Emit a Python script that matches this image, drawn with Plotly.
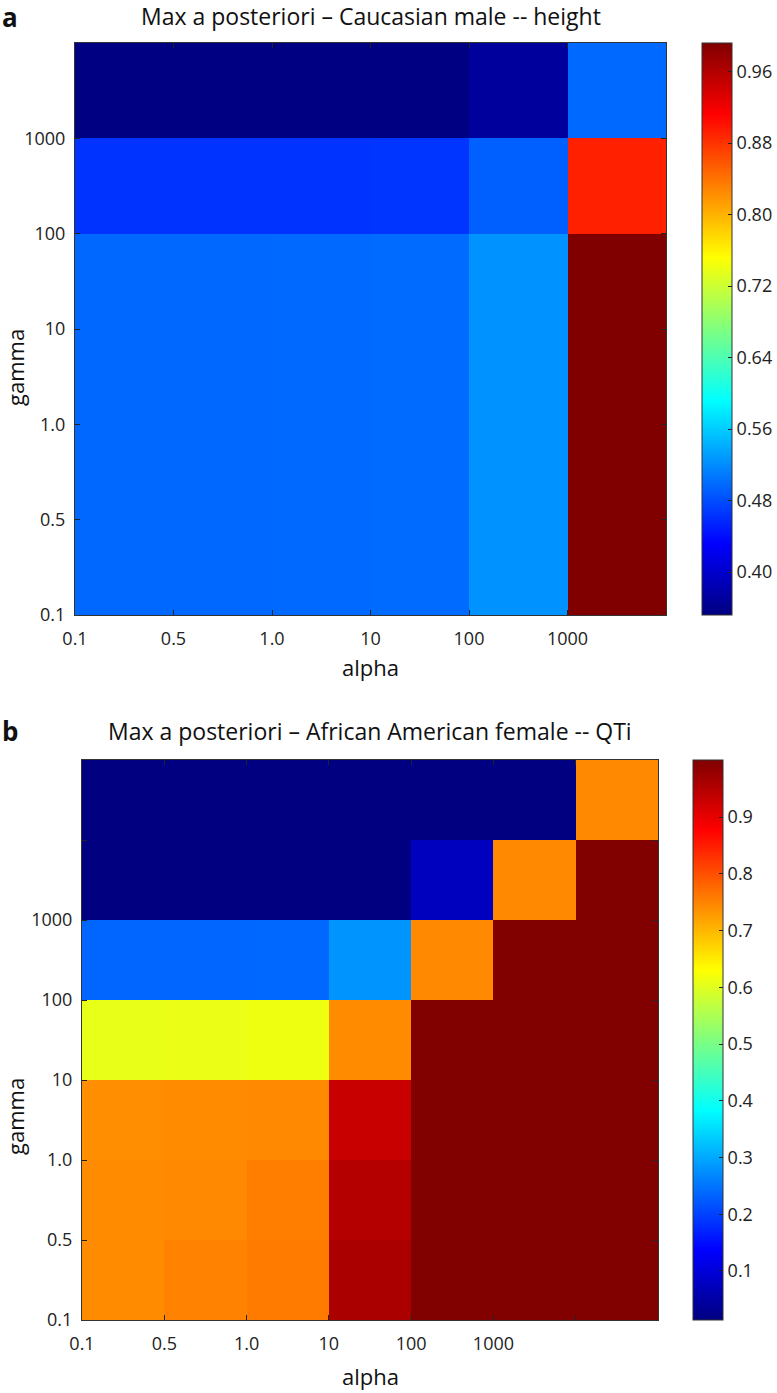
import plotly.graph_objects as go

# ---------------- data ----------------
alpha_labels_a = ["0.1", "0.5", "1.0", "10", "100", "1000"]
gamma_labels_a = ["0.1", "0.5", "1.0", "10", "100", "1000"]
alpha_labels_b = ["0.1", "0.5", "1.0", "10", "100", "1000", ""]
gamma_labels_b = ["0.1", "0.5", "1.0", "10", "100", "1000", ""]

# panel a: rows from bottom (gamma 0.1 ...) to top, columns alpha 0.1 ... last
z_a = [
    [0.497, 0.497, 0.498, 0.500, 0.524, 0.992],
    [0.497, 0.497, 0.498, 0.500, 0.524, 0.992],
    [0.497, 0.497, 0.498, 0.500, 0.524, 0.992],
    [0.497, 0.497, 0.498, 0.500, 0.524, 0.992],
    [0.464, 0.464, 0.464, 0.465, 0.492, 0.892],
    [0.354, 0.354, 0.354, 0.354, 0.370, 0.498],
]
cbar_a_vals = [0.40, 0.48, 0.56, 0.64, 0.72, 0.80, 0.88, 0.96]
zrange_a = [0.352, 0.992]

# panel b
z_b = [
    [0.743, 0.750, 0.758, 0.960, 1.0, 1.0, 1.0],
    [0.742, 0.745, 0.755, 0.949, 1.0, 1.0, 1.0],
    [0.740, 0.742, 0.745, 0.931, 1.0, 1.0, 1.0],
    [0.608, 0.610, 0.615, 0.742, 1.0, 1.0, 1.0],
    [0.236, 0.236, 0.237, 0.280, 0.745, 1.0, 1.0],
    [0.015, 0.015, 0.015, 0.015, 0.075, 0.745, 1.0],
    [0.015, 0.015, 0.015, 0.015, 0.015, 0.015, 0.745],
]
cbar_b_vals = [0.1, 0.2, 0.3, 0.4, 0.5, 0.6, 0.7, 0.8, 0.9]
zrange_b = [0.0136, 1.0005]

title_a = "Max a posteriori \u2013 Caucasian male -- height"
title_b = "Max a posteriori \u2013 African American female -- QTi"

jet = [[0.0, "#000080"], [0.125, "#0000FF"], [0.375, "#00FFFF"],
       [0.625, "#FFFF00"], [0.875, "#FF0000"], [1.0, "#800000"]]

W, H = 777, 1393
FONT = "Open Sans"

def px_x(p):
    return p / W

def px_y(p):
    return 1 - p / H

fig = go.Figure()

panels = [
    dict(z=z_a, zr=zrange_a, cb=cbar_a_vals, cbfmt="%.2f", x0=75, x1=666, y0=43, y1=615,
         cbx=702, cbx1=732, title=title_a, letter="a", xa="x", ya="y",
         xlab=alpha_labels_a, ylab=gamma_labels_a,
         xname="xaxis", yname="yaxis", gy=368, ty=16, ly=17, ay=667),
    dict(z=z_b, zr=zrange_b, cb=cbar_b_vals, cbfmt="%.1f", x0=82, x1=658, y0=760, y1=1320,
         cbx=693, cbx1=723, title=title_b, letter="b", xa="x2", ya="y2",
         xlab=alpha_labels_b, ylab=gamma_labels_b,
         xname="xaxis2", yname="yaxis2", gy=1117, ty=731, ly=731, ay=1376),
]

annotations = []
for p in panels:
    z = p["z"]
    nr, nc = len(z), len(z[0])
    fig.add_trace(go.Heatmap(
        z=z,
        x=[i + 0.5 for i in range(nc)],
        y=[j + 0.5 for j in range(nr)],
        colorscale=jet, zmin=p["zr"][0], zmax=p["zr"][1],
        xaxis=p["xa"], yaxis=p["ya"],
        colorbar=dict(
            x=px_x(p["cbx"]), xanchor="left", xref="paper",
            y=px_y(p["y1"]), yanchor="bottom", yref="paper",
            len=(p["y1"] - p["y0"]) / H, lenmode="fraction",
            thickness=p["cbx1"] - p["cbx"], thicknessmode="pixels",
            xpad=0, ypad=0,
            outlinewidth=1, outlinecolor="#333333",
            tickvals=p["cb"], ticktext=[p["cbfmt"] % v for v in p["cb"]],
            ticks="inside", ticklen=4, tickcolor="#222222",
            tickfont=dict(family=FONT, size=18, color="#222222"),
        ),
        showscale=True,
    ))
    xdom = [px_x(p["x0"]), px_x(p["x1"])]
    ydom = [px_y(p["y1"]), px_y(p["y0"])]
    fig.layout[p["xname"]] = dict(
        domain=xdom, range=[0, nc], anchor=p["ya"], automargin=False,
        tickmode="array", tickvals=list(range(len(p["xlab"]))), ticktext=p["xlab"],
        ticks="inside", ticklen=5, tickcolor="#222222", ticklabelstandoff=7,
        showline=True, linecolor="#333333", linewidth=1, mirror="ticks",
        showgrid=False, zeroline=False, fixedrange=True,
        tickfont=dict(family=FONT, size=18, color="#222222"),
    )
    fig.layout[p["yname"]] = dict(
        domain=ydom, range=[0, nr], anchor=p["xa"], automargin=False,
        tickmode="array", tickvals=list(range(len(p["ylab"]))), ticktext=p["ylab"],
        ticks="inside", ticklen=5, tickcolor="#222222", ticklabelstandoff=5,
        showline=True, linecolor="#333333", linewidth=1, mirror="ticks",
        showgrid=False, zeroline=False, fixedrange=True,
        tickfont=dict(family=FONT, size=18, color="#222222"),
    )
    cx = (p["x0"] + p["x1"]) / 2
    annotations += [
        dict(text=p["title"], x=px_x(cx), y=px_y(p["ty"]), xref="paper", yref="paper",
             showarrow=False, xanchor="center", yanchor="middle",
             font=dict(family=FONT, size=23, color="#111111")),
        dict(text="<b>" + p["letter"] + "</b>", x=px_x(0), y=px_y(p["ly"]), xref="paper",
             yref="paper", showarrow=False, xanchor="left", yanchor="middle",
             font=dict(family=FONT, size=26, color="#111111")),
        dict(text="alpha", x=px_x(cx), y=px_y(p["ay"]), xref="paper", yref="paper",
             showarrow=False, xanchor="center", yanchor="middle",
             font=dict(family=FONT, size=22, color="#111111")),
        dict(text="gamma", x=px_x(15), y=px_y(p["gy"]),
             xref="paper", yref="paper", showarrow=False, xanchor="center", yanchor="middle",
             textangle=-90, font=dict(family=FONT, size=22, color="#111111")),
    ]

fig.update_layout(
    width=W, height=H,
    margin=dict(l=0, r=0, t=0, b=0, autoexpand=False),
    paper_bgcolor="white", plot_bgcolor="white",
    annotations=annotations,
    showlegend=False,
)

# remove the browser's default 8px body margin so the figure fills the window exactly
fig.write_html("out.html", config={"displayModeBar": False},
               post_script="document.body.style.margin='0px';document.body.style.overflow='hidden';")
